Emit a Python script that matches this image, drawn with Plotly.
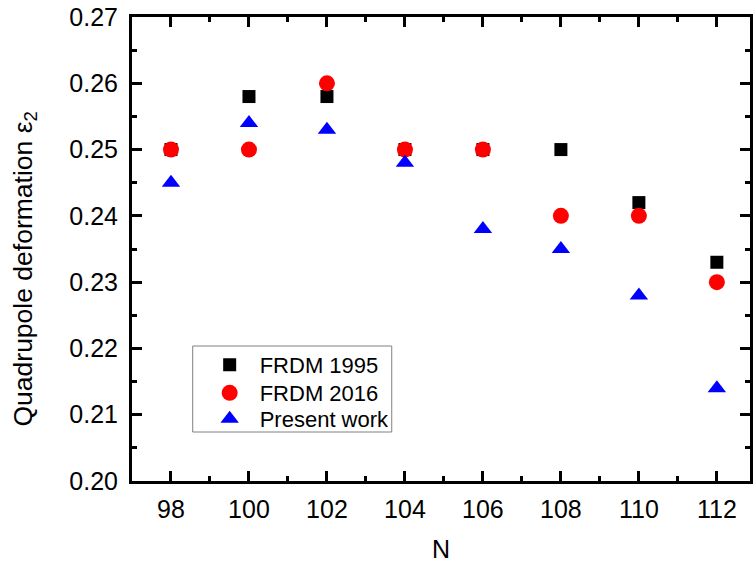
import plotly.graph_objects as go

N = [98, 100, 102, 104, 106, 108, 110, 112]
frdm1995 = [0.250, 0.258, 0.258, 0.250, 0.250, 0.250, 0.242, 0.233]
frdm2016 = [0.250, 0.250, 0.260, 0.250, 0.250, 0.240, 0.240, 0.230]
present = [0.245, 0.254, 0.253, 0.248, 0.238, 0.235, 0.228, 0.214]

FONT = "Liberation Sans, Arial, sans-serif"

L, T, W, H = 132, 17, 621, 464


def px_x(p):
    return (p - L) / W


def px_y(p):
    return (T + H - p) / H


fig = go.Figure()
fig.add_trace(go.Scatter(x=N, y=frdm1995, mode="markers", name="FRDM 1995", legend="legend",
                         marker=dict(symbol="square", size=13, color="black")))
fig.add_trace(go.Scatter(x=N, y=frdm2016, mode="markers", name="FRDM 2016", legend="legend2",
                         marker=dict(symbol="circle", size=16, color="#ff0000")))
fig.add_trace(go.Scatter(x=N, y=present, mode="markers", name="Present work", legend="legend3",
                         marker=dict(symbol="triangle-up", size=16, color="#0000ff")))

axis_common = dict(
    showgrid=False, zeroline=False, showline=True, linecolor="black", linewidth=3,
    mirror="allticks", ticks="inside", ticklen=10, tickwidth=3, tickcolor="black",
    tickfont=dict(family=FONT, size=25, color="black"),
)

fig.update_xaxes(
    range=[97, 112.85], tickmode="array", tickvals=N, ticktext=[str(v) for v in N],
    minor=dict(ticks="inside", ticklen=5, tickwidth=3, tickcolor="black", dtick=1, tick0=97),
    title=dict(text="N", font=dict(family=FONT, size=25, color="black"), standoff=20),
    ticklabelstandoff=4,
    **axis_common,
)
fig.update_yaxes(
    range=[0.20, 0.27], tickmode="array",
    tickvals=[0.20, 0.21, 0.22, 0.23, 0.24, 0.25, 0.26, 0.27],
    ticktext=["0.20", "0.21", "0.22", "0.23", "0.24", "0.25", "0.26", "0.27"],
    minor=dict(ticks="inside", ticklen=5, tickwidth=3, tickcolor="black", dtick=0.005, tick0=0.20),
    ticklabelstandoff=6,
    **axis_common,
)

# y-axis title as annotation (reference title is centred slightly below the plot middle)
fig.add_annotation(text="Quadrupole deformation ε<sub>2</sub>", textangle=-90,
                   xref="paper", yref="paper", x=px_x(24), y=px_y(269),
                   xanchor="center", yanchor="middle", showarrow=False,
                   font=dict(family=FONT, size=26.5, color="black"))

# legend frame
fig.add_shape(type="rect", xref="paper", yref="paper",
              x0=px_x(193), x1=px_x(393), y0=px_y(432), y1=px_y(346),
              line=dict(color="#808080", width=1), fillcolor="rgba(0,0,0,0)", layer="above")

leg_common = dict(xanchor="left", yanchor="middle", borderwidth=0, bgcolor="rgba(0,0,0,0)",
                  font=dict(family=FONT, size=22, color="black"), itemwidth=50)

fig.update_layout(
    width=753, height=563,
    margin=dict(l=L, r=753 - L - W, t=T, b=563 - T - H),
    plot_bgcolor="white", paper_bgcolor="white",
    showlegend=True,
    legend=dict(x=px_x(200), y=px_y(365), **leg_common),
    legend2=dict(x=px_x(200), y=px_y(393), **leg_common),
    legend3=dict(x=px_x(200), y=px_y(419), **leg_common),
)

fig.write_html("out.html")
